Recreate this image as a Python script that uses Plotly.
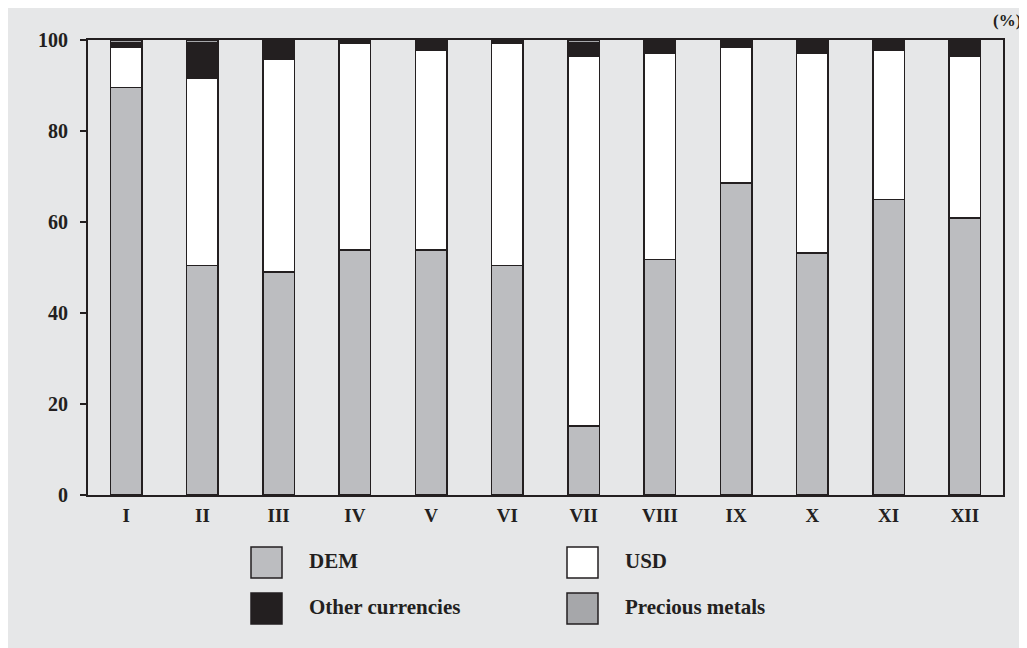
import plotly.graph_objects as go

months = ["I", "II", "III", "IV", "V", "VI", "VII", "VIII", "IX", "X", "XI", "XII"]
dem = [89.6, 50.4, 49.0, 53.8, 53.8, 50.4, 15.2, 51.8, 68.6, 53.2, 65.0, 60.9]
usd = [8.9, 41.1, 46.7, 45.4, 44.0, 48.8, 81.3, 45.3, 29.9, 43.9, 32.8, 35.6]
other = [0.9, 8.0, 4.0, 0.8, 2.2, 0.8, 3.0, 2.9, 1.5, 2.9, 2.2, 3.5]
precious = [0.6, 0.5, 0.3, 0.0, 0.0, 0.0, 0.5, 0.0, 0.0, 0.0, 0.0, 0.0]
y_ticks = [0, 20, 40, 60, 80, 100]

series = [
    ("DEM", dem, "#bcbdc0"),
    ("USD", usd, "#ffffff"),
    ("Other currencies", other, "#231f20"),
    ("Precious metals", precious, "#a6a7aa"),
]

W, H = 1040, 641
L, T, B = 80, 32, 154
R = W - 995
PW, PH = W - L - R, H - T - B
BG = "#e6e7e8"
INK = "#231f20"
FONT = "Liberation Serif, Times New Roman, serif"


def xp(px):
    return (px - L) / PW


def yp(py):
    return (H - B - py) / PH


fig = go.Figure()
for name, vals, col in series:
    fig.add_trace(go.Bar(
        x=months, y=vals, name=name,
        marker=dict(color=col, line=dict(color=INK, width=1.5)),
        width=0.41, showlegend=False,
    ))

shapes = []
annotations = []

# custom legend: 2 columns x 2 rows (figure pixel positions)
legend_pos = [(243, 539), (559, 539), (243, 585), (559, 585)]
for (name, vals, col), (lx, ly) in zip(series, legend_pos):
    shapes.append(dict(type="rect", xref="paper", yref="paper",
                       x0=xp(lx), x1=xp(lx + 31), y0=yp(ly + 31), y1=yp(ly),
                       fillcolor=col, line=dict(color=INK, width=1.5)))
    annotations.append(dict(xref="paper", yref="paper", x=xp(lx + 56), y=yp(ly + 14),
                            text=f"<b>{name}</b>", showarrow=False,
                            xanchor="left", yanchor="middle",
                            font=dict(family=FONT, size=21, color=INK)))

annotations.append(dict(xref="paper", yref="paper", x=xp(1015), y=yp(1),
                        text="<b>(%)</b>", showarrow=False, xanchor="right", yanchor="top",
                        font=dict(family=FONT, size=17, color=INK)))

fig.update_layout(
    width=W, height=H,
    margin=dict(l=L, r=R, t=T, b=B),
    paper_bgcolor=BG, plot_bgcolor=BG,
    barmode="stack", bargap=0.59,
    shapes=shapes, annotations=annotations,
    font=dict(family=FONT, size=19, color=INK),
    xaxis=dict(
        showline=True, linecolor=INK, linewidth=2, mirror=True,
        ticks="", showgrid=False, ticklabelstandoff=2,
        tickfont=dict(family=FONT, size=19, color=INK, weight="bold"),
    ),
    yaxis=dict(
        range=[0, 100], tickvals=y_ticks,
        showline=True, linecolor=INK, linewidth=2, mirror=True,
        ticks="outside", ticklen=6, tickwidth=1.5, tickcolor=INK,
        showgrid=False, zeroline=False, ticklabelstandoff=8,
        tickfont=dict(family=FONT, size=20, color=INK, weight="bold"),
    ),
)

fig.write_html("out.html", default_width=f"{W}px", default_height=f"{H}px")
